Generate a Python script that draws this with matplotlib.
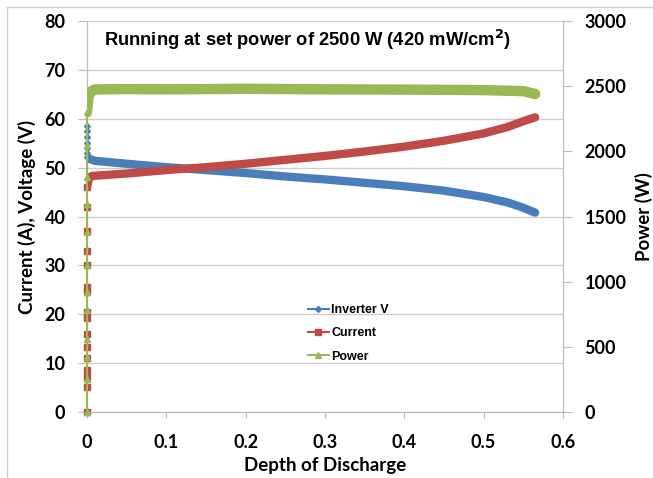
import numpy as np
import matplotlib.pyplot as plt
from matplotlib.lines import Line2D

plt.rcParams['font.family'] = ['Lato', 'DejaVu Sans']
plt.rcParams['font.weight'] = 'bold'

# start-up readings, all taken at depth of discharge 0
v_start = [58.6, 57.5, 56.2, 55.0, 54.0, 53.0, 52.2]
c_start = [0, 5.1, 7.2, 8.5, 11.0, 13.3, 16.0, 19.2, 20.5, 24.5, 25.5, 30.0, 33.0, 37.0, 42.0, 46.0]
p_start = [0, 250, 420, 560, 780, 920, 1130, 1380, 1600, 1800, 2050, 2300]

# running readings vs depth of discharge
v_dod = [0.0, 0.003, 0.01, 0.05, 0.1, 0.15, 0.2, 0.25, 0.3, 0.35, 0.4, 0.45, 0.5, 0.53, 0.55, 0.565]
v_val = [52.2, 51.8, 51.4, 50.8, 50.1, 49.5, 48.9, 48.2, 47.6, 46.9, 46.2, 45.3, 44.0, 42.9, 41.8, 40.8]

c_dod = [0.0, 0.002, 0.006, 0.05, 0.1, 0.15, 0.2, 0.25, 0.3, 0.35, 0.4, 0.45, 0.5, 0.53, 0.55, 0.565]
c_val = [46.0, 47.5, 48.3, 48.8, 49.5, 50.1, 50.8, 51.6, 52.4, 53.3, 54.3, 55.5, 57.0, 58.3, 59.5, 60.3]

p_dod = [0.0, 0.002, 0.005, 0.01, 0.05, 0.1, 0.2, 0.3, 0.4, 0.5, 0.55, 0.565]
p_val = [2300, 2420, 2460, 2475, 2478, 2476, 2480, 2476, 2474, 2470, 2462, 2440]

blue, red, green = '#4a7ebb', '#be4b48', '#98b954'

fig, ax = plt.subplots(figsize=(6.53, 4.78), dpi=100)
fig.subplots_adjust(left=0.1332, right=0.862, bottom=0.138, top=0.956)
ax2 = ax.twinx()

# thin start-up segments with visible markers
ax.plot([0] * len(v_start), v_start, color=blue, lw=1.2, marker='D', ms=3, clip_on=False, zorder=3)
ax.plot([0] * len(c_start), c_start, color=red, lw=1.2, marker='s', ms=5, clip_on=False, zorder=3)
ax2.plot([0] * len(p_start), p_start, color=green, lw=1.5, marker='^', ms=5, clip_on=False, zorder=3)

# dense running data: thick bands
ax.plot(v_dod, v_val, color=blue, lw=6, solid_capstyle='round', zorder=3)
ax.plot(c_dod, c_val, color=red, lw=6, solid_capstyle='round', zorder=3)
ax2.plot(p_dod, p_val, color=green, lw=7.5, solid_capstyle='round', zorder=3)

ax.set_xlim(0, 0.6)
ax.set_ylim(0, 80)
ax2.set_ylim(0, 3000)
ax.set_xticks(np.arange(0, 0.61, 0.1))
ax.set_xticklabels(['0', '0.1', '0.2', '0.3', '0.4', '0.5', '0.6'])
ax.set_yticks(range(0, 81, 10))
ax2.set_yticks(range(0, 3001, 500))

ax.yaxis.grid(True, color='#cfcfcf', lw=1)
ax.set_axisbelow(True)
for a in (ax, ax2):
    a.spines['top'].set_visible(False)
    for s in ('left', 'right', 'bottom'):
        a.spines[s].set_color('#bdbdbd')
    a.tick_params(labelsize=13, colors='#bdbdbd', labelcolor='black', length=6)
ax.tick_params(axis='y', length=6.5, pad=9)
ax.tick_params(axis='x', length=4, pad=12)
ax2.tick_params(axis='y', length=6.5, pad=9)

ax.set_xlabel('Depth of Discharge', fontsize=13.5, fontweight='bold', labelpad=4)
ax.set_ylabel('Current (A), Voltage (V)', fontsize=13.5, fontweight='bold', labelpad=6)
ax2.set_ylabel('Power (W)', fontsize=13.5, fontweight='bold', labelpad=6)

ax.text(0.278, 76.2, 'Running at set power of 2500 W (420 mW/cm$^\\mathbf{2}$)',
        ha='center', va='center', fontsize=13.2, fontweight='bold', family='Liberation Sans')

handles = [Line2D([], [], color=blue, lw=1.5, marker='D', ms=3),
           Line2D([], [], color=red, lw=1.5, marker='s', ms=4),
           Line2D([], [], color=green, lw=1.5, marker='^', ms=4)]
ax.legend(handles, ['Inverter V', 'Current', 'Power'], loc='upper left',
          bbox_to_anchor=(0.44, 0.305), frameon=False, handlelength=1.7,
          handletextpad=0.2, labelspacing=0.9, prop={'family': 'Liberation Sans', 'weight': 'bold', 'size': 9})

# light frame around the picture
fig.add_artist(Line2D([0.0107, 0.0107], [0, 0.985], transform=fig.transFigure, color='#d0d0d0', lw=1))
fig.add_artist(Line2D([0.0107, 1], [0.985, 0.985], transform=fig.transFigure, color='#d0d0d0', lw=1))

fig.savefig('out.png', dpi=100)
